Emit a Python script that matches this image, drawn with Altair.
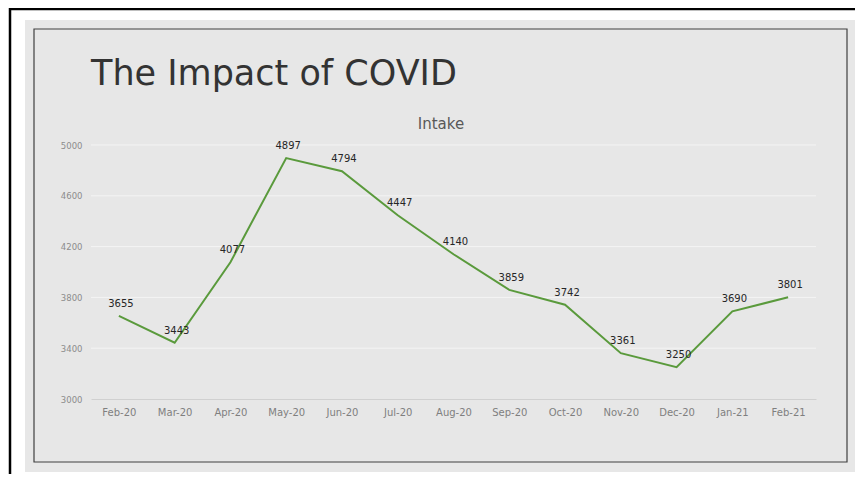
import altair as alt
import pandas as pd

months = ["Feb-20", "Mar-20", "Apr-20", "May-20", "Jun-20", "Jul-20", "Aug-20",
          "Sep-20", "Oct-20", "Nov-20", "Dec-20", "Jan-21", "Feb-21"]
intake = [3655, 3443, 4077, 4897, 4794, 4447, 4140, 3859, 3742, 3361, 3250, 3690, 3801]
y_ticks = [3000, 3400, 3800, 4200, 4600, 5000]
chart_title = "The Impact of COVID"
series_title = "Intake"

df = pd.DataFrame({"Month": months, "Intake": intake})
grid_df = pd.DataFrame({"Intake": y_ticks[1:]})
one = pd.DataFrame({"k": [0]})

FONT = "DejaVu Sans"
W, H = 725, 254

y_scale = alt.Scale(domain=[3000, 5000], nice=False, zero=False)

x_enc = alt.X("Month:O", sort=months, scale=alt.Scale(padding=0.5),
              axis=alt.Axis(title=None, labelAngle=0, labelFont=FONT, labelFontSize=10,
                            labelColor="#7f7f7f", labelPadding=8, ticks=False,
                            domain=True, domainColor="#d0d0d0", domainWidth=1, grid=False,
                            zindex=1))
y_enc = alt.Y("Intake:Q", scale=y_scale,
              axis=alt.Axis(title=None, values=y_ticks, format="d", labelFont=FONT,
                            labelFontSize=8.5, labelColor="#8c8c8c", labelPadding=9,
                            ticks=False, domain=False, grid=False, zindex=1))

panel = alt.Chart(one).mark_rect(fill="#e7e7e7").encode(
    x=alt.value(-66), x2=alt.value(770), y=alt.value(-125), y2=alt.value(327))
inner = alt.Chart(one).mark_rect(fill=None, stroke="#404040", strokeWidth=1.2).encode(
    x=alt.value(-57), x2=alt.value(756), y=alt.value(-116), y2=alt.value(317))
left_line = alt.Chart(one).mark_rule(color="#000000", strokeWidth=2.5).encode(
    x=alt.value(-81), y=alt.value(-137), y2=alt.value(340))
top_line = alt.Chart(one).mark_rule(color="#000000", strokeWidth=2.5).encode(
    x=alt.value(-82), x2=alt.value(770), y=alt.value(-136))

grid = alt.Chart(grid_df).mark_rule(color="#f4f4f4", strokeWidth=1).encode(
    y=alt.Y("Intake:Q", scale=y_scale), x=alt.value(0), x2=alt.value(W))

title_txt = alt.Chart(one).mark_text(text=chart_title, font=FONT, fontSize=35,
                                     color="#333333", align="left", baseline="alphabetic").encode(
    x=alt.value(0), y=alt.value(-60))
sub_txt = alt.Chart(one).mark_text(text=series_title, font=FONT, fontSize=15,
                                   color="#595959", align="center", baseline="alphabetic").encode(
    x=alt.value(350), y=alt.value(-16))

line = alt.Chart(df).mark_line(color="#5a9a3c", strokeWidth=2).encode(x=x_enc, y=y_enc)
labels = alt.Chart(df).mark_text(font=FONT, fontSize=10, color="#262626", dy=-12, dx=2).encode(
    x=alt.X("Month:O", sort=months), y="Intake:Q", text=alt.Text("Intake:Q", format="d"))

chart = alt.layer(panel, inner, left_line, top_line, grid, title_txt, sub_txt, line, labels).properties(
    width=W, height=H,
    autosize=alt.AutoSizeParams(type="none"),
    padding={"left": 83, "top": 137, "right": 39, "bottom": 75},
    background="#ffffff",
).configure_view(stroke=None)

chart.save("out.html", embed_options={"renderer": "svg", "actions": False})
